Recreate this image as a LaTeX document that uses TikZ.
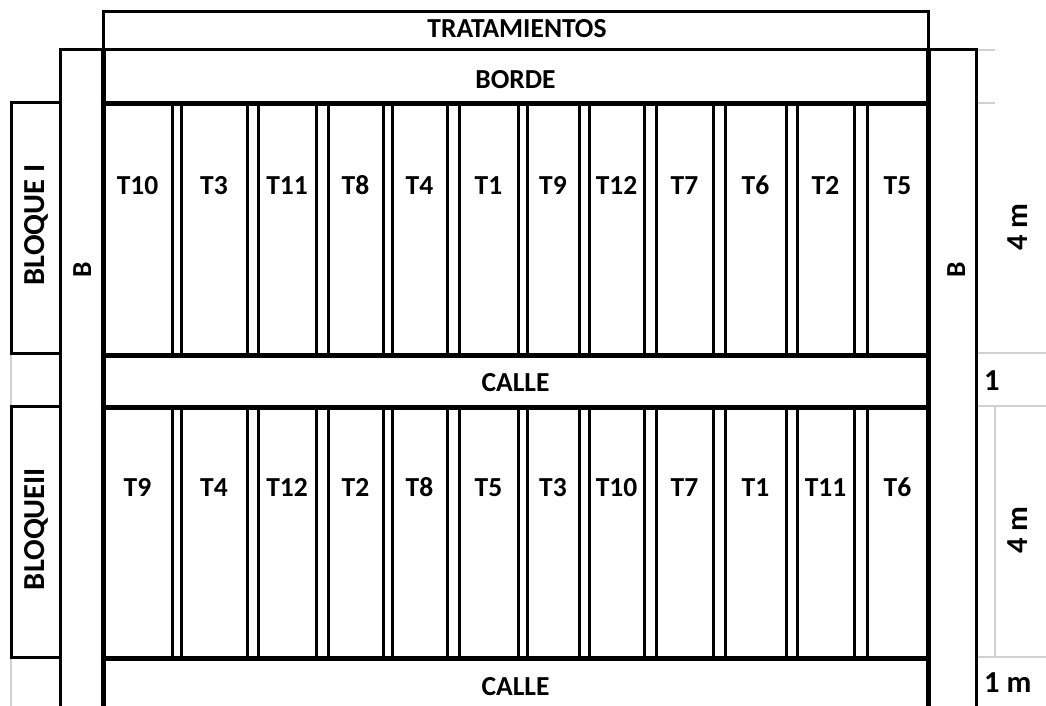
\documentclass[tikz,border=0pt]{standalone}
\usepackage{fontspec}
\setmainfont{Carlito}
\begin{document}
\begin{tikzpicture}[x=1pt,y=-1pt,
  thinl/.style={line width=3pt},
  thickl/.style={line width=5pt},
  guide/.style={line width=2pt, draw=black!18},
  lbl/.style={font=\fontsize{27.5}{31}\selectfont\bfseries, inner sep=0pt, anchor=base},
  biglbl/.style={lbl, font=\fontsize{30.5}{34}\selectfont\bfseries},
  vlbl/.style={biglbl, rotate=90},
  blbl/.style={lbl, rotate=90}]
\useasboundingbox (0,0) rectangle (1046,706);
% light guide lines
\draw[guide] (11,353) -- (11,406);
\draw[guide] (11,657) -- (11,706);
\draw[guide] (976,50) -- (995,50);
\draw[guide] (976,103) -- (995,103);
\draw[guide] (976,353) -- (1046,353);
\draw[guide] (976,406) -- (1046,406);
\draw[guide] (995,406) -- (995,657);
\draw[guide] (976,657) -- (1046,657);
% tratamientos box
\draw[thinl] (103,50) -- (103,12) -- (928,12) -- (928,50);
% border columns
\draw[thinl] (60,706) -- (60,50) -- (976,50) -- (976,706);
% bloque boxes
\draw[thinl] (60,103) -- (11,103) -- (11,353) -- (60,353);
\draw[thinl] (60,406) -- (11,406) -- (11,657) -- (60,657);
% plots: double lines
\foreach \a/\b in {172/181,247/258,316/328,383/392,447/459,518/527,579/589,644/656,713/725,786/797,854/867}{
  \draw[thinl] (\a,104) -- (\a,355);
  \draw[thinl] (\b,104) -- (\b,355);
  \draw[thinl] (\a,407) -- (\a,658);
  \draw[thinl] (\b,407) -- (\b,658);
}
% thick frame lines
\draw[thickl] (103,50) -- (103,706);
\draw[thickl] (928,50) -- (928,706);
\foreach \y in {104,355,407,658}{
  \draw[thickl] (100.5,\y) -- (930.5,\y);
}
% texts
\node[lbl] (trat) at (517,38) {TRATAMIENTOS};
\node[lbl] (borde) at (515.5,89) {BORDE};
\node[lbl] (calle1) at (515.5,391) {CALLE};
\node[lbl] (calle2) at (515.5,695) {CALLE};
\foreach \x/\t [count=\i] in {137.5/T10,214/T3,287/T11,355.5/T8,419.5/T4,488.5/T1,553/T9,616.5/T12,684.5/T7,755.5/T6,825.5/T2,897.5/T5}{
  \node[lbl] (a\i) at (\x,194) {\t};
}
\foreach \x/\t [count=\i] in {137.5/T9,214/T4,287/T12,355.5/T2,419.5/T8,488.5/T5,553/T3,616.5/T10,684.5/T7,755.5/T1,825.5/T11,897.5/T6}{
  \node[lbl] (b\i) at (\x,496) {\t};
}
\node[vlbl] (bloq1) at (44,225) {BLOQUE I};
\node[vlbl] (bloq2) at (44,529) {BLOQUEII};
\node[blbl] (bl) at (91,270) {B};
\node[blbl] (br) at (965,270) {B};
\node[vlbl] (m4a) at (1027,227) {4 m};
\node[vlbl] (m4b) at (1027,530) {4 m};
\node[biglbl, anchor=base west] (m1a) at (984,390) {1};
\node[biglbl, anchor=base west] (m1b) at (984,692) {1 m};
\end{tikzpicture}
\end{document}
